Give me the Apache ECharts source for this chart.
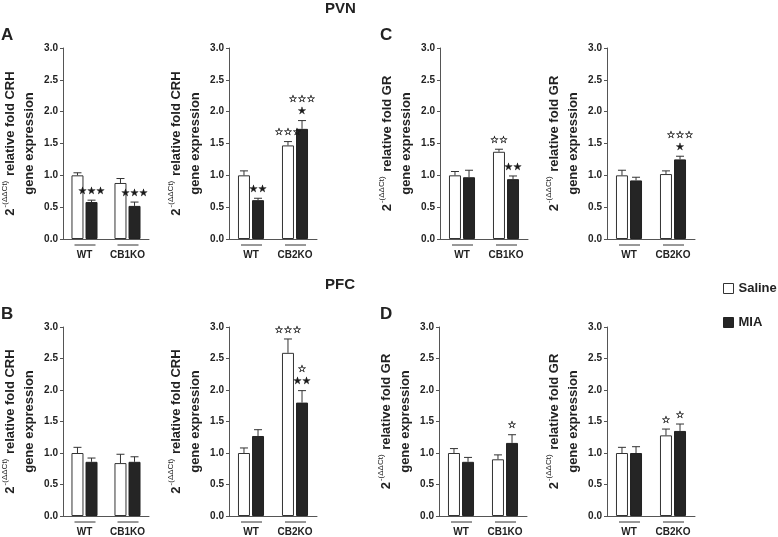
<!DOCTYPE html>
<html>
<head>
<meta charset="utf-8">
<script src="https://cdn.jsdelivr.net/npm/echarts@6/dist/echarts.min.js"></script>
<style>html,body{margin:0;padding:0;background:#fff}#c{width:778px;height:537px}</style>
</head>
<body>
<div id="c"></div>
<script>
// ---------- data ----------
const catsCB1 = ['WT', 'CB1KO'];
const catsCB2 = ['WT', 'CB2KO'];
const yTickValues = [0, 0.5, 1.0, 1.5, 2.0, 2.5, 3.0];

// A: PVN CRH
const A1_saline = [1.00, 0.88];  const A1_salineErr = [0.04, 0.07];
const A1_mia    = [0.58, 0.52];  const A1_miaErr    = [0.03, 0.06];
const A1_salineStars = ['', ''];  const A1_miaStars = ['★★★', '★★★'];

const A2_saline = [1.00, 1.47];  const A2_salineErr = [0.07, 0.06];
const A2_mia    = [0.61, 1.73];  const A2_miaErr    = [0.03, 0.13];
const A2_salineStars = ['', '☆☆☆'];  const A2_miaStars = ['★★', '☆☆☆\n★'];

// C: PVN GR
const C1_saline = [1.00, 1.37];  const C1_salineErr = [0.06, 0.04];
const C1_mia    = [0.97, 0.94];  const C1_miaErr    = [0.11, 0.05];
const C1_salineStars = ['', '☆☆'];  const C1_miaStars = ['', '★★'];

const C2_saline = [1.00, 1.02];  const C2_salineErr = [0.08, 0.05];
const C2_mia    = [0.92, 1.25];  const C2_miaErr    = [0.05, 0.05];
const C2_salineStars = ['', ''];  const C2_miaStars = ['', '☆☆☆\n★'];

// B: PFC CRH
const B1_saline = [1.00, 0.84];  const B1_salineErr = [0.09, 0.14];
const B1_mia    = [0.86, 0.86];  const B1_miaErr    = [0.06, 0.08];
const B1_salineStars = ['', ''];  const B1_miaStars = ['', ''];

const B2_saline = [1.00, 2.59];  const B2_salineErr = [0.08, 0.22];
const B2_mia    = [1.27, 1.80];  const B2_miaErr    = [0.10, 0.19];
const B2_salineStars = ['', '☆☆☆'];  const B2_miaStars = ['', '☆\n★★'];

// D: PFC GR
const D1_saline = [1.00, 0.90];  const D1_salineErr = [0.07, 0.07];
const D1_mia    = [0.86, 1.16];  const D1_miaErr    = [0.07, 0.13];
const D1_salineStars = ['', ''];  const D1_miaStars = ['', '☆'];

const D2_saline = [1.00, 1.28];  const D2_salineErr = [0.09, 0.10];
const D2_mia    = [1.00, 1.35];  const D2_miaErr    = [0.10, 0.11];
const D2_salineStars = ['', '☆'];  const D2_miaStars = ['', '☆'];

// ---------- layout / build ----------
const FONT = "'Liberation Sans', Arial, sans-serif";
const STARFONT = "'DejaVu Sans', sans-serif";
const BAR_W = 12, BAR_GAP = 0.17;
const BAR_OFF = BAR_W * (1 + BAR_GAP) / 2;
const GRID_W = 88, GRID_H = 191;

const panels = [
  {cats: catsCB1, gene: 'CRH', s: A1_saline, se: A1_salineErr, m: A1_mia, me: A1_miaErr, ss: A1_salineStars, ms: A1_miaStars, left: 61,  top: 48},
  {cats: catsCB2, gene: 'CRH', s: A2_saline, se: A2_salineErr, m: A2_mia, me: A2_miaErr, ss: A2_salineStars, ms: A2_miaStars, left: 229, top: 48},
  {cats: catsCB1, gene: 'GR',  s: C1_saline, se: C1_salineErr, m: C1_mia, me: C1_miaErr, ss: C1_salineStars, ms: C1_miaStars, left: 440, top: 48},
  {cats: catsCB2, gene: 'GR',  s: C2_saline, se: C2_salineErr, m: C2_mia, me: C2_miaErr, ss: C2_salineStars, ms: C2_miaStars, left: 607, top: 48},
  {cats: catsCB1, gene: 'CRH', s: B1_saline, se: B1_salineErr, m: B1_mia, me: B1_miaErr, ss: B1_salineStars, ms: B1_miaStars, left: 61,  top: 327},
  {cats: catsCB2, gene: 'CRH', s: B2_saline, se: B2_salineErr, m: B2_mia, me: B2_miaErr, ss: B2_salineStars, ms: B2_miaStars, left: 229, top: 327},
  {cats: catsCB1, gene: 'GR',  s: D1_saline, se: D1_salineErr, m: D1_mia, me: D1_miaErr, ss: D1_salineStars, ms: D1_miaStars, left: 439, top: 327},
  {cats: catsCB2, gene: 'GR',  s: D2_saline, se: D2_salineErr, m: D2_mia, me: D2_miaErr, ss: D2_salineStars, ms: D2_miaStars, left: 607, top: 327}
];

const grid = [], xAxis = [], yAxis = [], series = [];

panels.forEach((p, i) => {
  grid.push({left: p.left, top: p.top, width: GRID_W, height: GRID_H});
  xAxis.push({
    type: 'category', gridIndex: i, data: p.cats,
    axisLine: {lineStyle: {color: '#555', width: 1}},
    axisTick: {show: false},
    axisLabel: {interval: 0, hideOverlap: false, margin: 11, fontFamily: FONT, fontWeight: 'bold', fontSize: 10, color: '#222'}
  });
  yAxis.push({
    type: 'value', gridIndex: i, min: yTickValues[0], max: yTickValues[yTickValues.length - 1], interval: yTickValues[1] - yTickValues[0],
    splitLine: {show: false},
    axisLine: {show: true, lineStyle: {color: '#555', width: 1}},
    axisTick: {show: true, length: 3, lineStyle: {color: '#555'}},
    axisLabel: {margin: 5, fontFamily: FONT, fontWeight: 'bold', fontSize: 10, color: '#222', formatter: v => v.toFixed(1)},
    name: '{n|2}{s|-(ΔΔCt)}{n| relative fold ' + p.gene + '}\n{n|gene expression}',
    nameLocation: 'middle', nameRotate: 90, nameGap: 24,
    nameTextStyle: {
      fontFamily: FONT, fontWeight: 'bold', fontSize: 13, color: '#222', lineHeight: 19,
      rich: {
        n: {fontFamily: FONT, fontWeight: 'bold', fontSize: 13, color: '#222', lineHeight: 19},
        s: {fontFamily: FONT, fontWeight: 'normal', fontSize: 8, color: '#222', lineHeight: 19, verticalAlign: 'top', padding: [0, 1, 6, 1]}
      }
    }
  });
  series.push({
    name: 'Saline', type: 'bar', xAxisIndex: i, yAxisIndex: i, data: p.s,
    barWidth: BAR_W, barGap: (BAR_GAP * 100) + '%',
    itemStyle: {color: '#ffffff', borderColor: '#333', borderWidth: 1},
    emphasis: {disabled: true}, z: 2
  });
  series.push({
    name: 'MIA', type: 'bar', xAxisIndex: i, yAxisIndex: i, data: p.m,
    barWidth: BAR_W, barGap: (BAR_GAP * 100) + '%',
    itemStyle: {color: '#252525', borderColor: '#222', borderWidth: 1},
    emphasis: {disabled: true}, z: 2
  });
  // error bars + stars
  const errData = [];
  p.cats.forEach((c, k) => {
    errData.push([k, 0, p.s[k], p.se[k], p.ss[k]]);
    errData.push([k, 1, p.m[k], p.me[k], p.ms[k]]);
  });
  series.push({
    type: 'custom', xAxisIndex: i, yAxisIndex: i, data: errData, z: 5, silent: true,
    encode: {x: 0, y: 2},
    renderItem: (params, api) => {
      const k = api.value(0), side = api.value(1), v = api.value(2), e = api.value(3);
      const txt = errData[params.dataIndex][4];
      const base = api.coord([k, v]);
      const top = api.coord([k, v + e]);
      const x = base[0] + (side === 0 ? -BAR_OFF : BAR_OFF);
      const st = {stroke: '#333', lineWidth: 1};
      const children = [
        {type: 'line', shape: {x1: x, y1: base[1], x2: x, y2: top[1]}, style: st},
        {type: 'line', shape: {x1: x - 4, y1: top[1], x2: x + 4, y2: top[1]}, style: st}
      ];
      if (txt) {
        children.push({type: 'text', style: {text: txt, x: x, y: top[1] - 3, align: 'center', verticalAlign: 'bottom',
          fontFamily: STARFONT, fontSize: 10, lineHeight: 12, fill: '#1a1a1a', stroke: '#1a1a1a', lineWidth: 0.3}});
      }
      return {type: 'group', children: children};
    }
  });
  // group underlines
  series.push({
    type: 'custom', xAxisIndex: i, yAxisIndex: i, data: p.cats.map((c, k) => [k, 0]), z: 5, silent: true,
    encode: {x: 0, y: 1}, clip: false,
    renderItem: (params, api) => {
      const pt = api.coord([api.value(0), 0]);
      return {type: 'line', shape: {x1: pt[0] - 10, y1: pt[1] + 6, x2: pt[0] + 11, y2: pt[1] + 6}, style: {stroke: '#333', lineWidth: 1}};
    }
  });
});

const chart = echarts.init(document.getElementById('c'), null, {renderer: 'canvas'});
chart.setOption({
  animation: false,
  backgroundColor: '#fff',
  grid, xAxis, yAxis, series,
  legend: {
    data: ['Saline', 'MIA'], orient: 'vertical', left: 718, top: 277,
    itemWidth: 10, itemHeight: 10, itemGap: 21, icon: 'rect',
    itemStyle: {borderWidth: 1},
    textStyle: {fontFamily: FONT, fontWeight: 'bold', fontSize: 13, color: '#222'},
    selectedMode: false
  },
  graphic: [
    {type: 'text', left: 325, top: 1, style: {text: 'PVN', font: "bold 15px 'Liberation Sans', Arial", fill: '#222'}},
    {type: 'text', left: 325, top: 277, style: {text: 'PFC', font: "bold 15px 'Liberation Sans', Arial", fill: '#222'}},
    {type: 'text', left: 1, top: 27, style: {text: 'A', font: "bold 17px 'Liberation Sans', Arial", fill: '#222'}},
    {type: 'text', left: 380, top: 27, style: {text: 'C', font: "bold 17px 'Liberation Sans', Arial", fill: '#222'}},
    {type: 'text', left: 1, top: 306, style: {text: 'B', font: "bold 17px 'Liberation Sans', Arial", fill: '#222'}},
    {type: 'text', left: 380, top: 306, style: {text: 'D', font: "bold 17px 'Liberation Sans', Arial", fill: '#222'}}
  ]
});
</script>
</body>
</html>
